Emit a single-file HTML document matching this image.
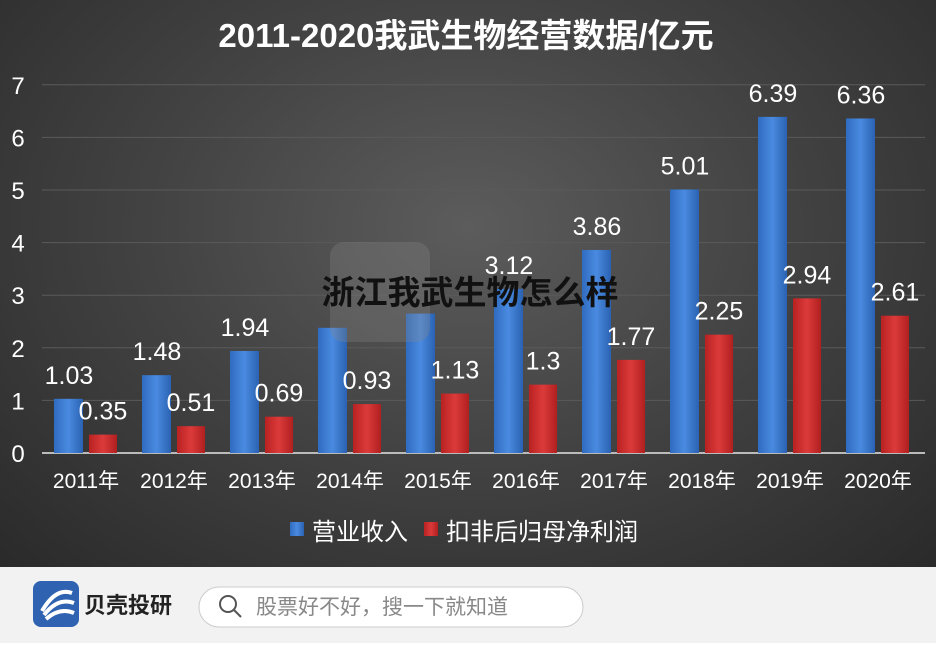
<!DOCTYPE html>
<html><head><meta charset="utf-8"><style>
body{margin:0;width:936px;height:643px;overflow:hidden;font-family:"Liberation Sans","Noto Sans CJK SC",sans-serif}
#chart{position:absolute;left:0;top:0;width:936px;height:567px;background:radial-gradient(ellipse at 50% 40%,#5c5c5c 0%,#444 45%,#2a2a2a 100%)}
#footer{position:absolute;left:0;top:567px;width:936px;height:76px;background:#f2f2f2}
</style></head><body>
<div id="chart">
<svg width="936" height="567" id="svg">
<defs>
<linearGradient id="gb" x1="0" x2="1"><stop offset="0" stop-color="#2f6cc0"/><stop offset="0.5" stop-color="#4a8ae0"/><stop offset="1" stop-color="#2a62b2"/></linearGradient>
<linearGradient id="gr" x1="0" x2="1"><stop offset="0" stop-color="#b82222"/><stop offset="0.5" stop-color="#dc3a3a"/><stop offset="1" stop-color="#b01f1f"/></linearGradient>
</defs>
<text x="466" y="47" text-anchor="middle" font-size="33" font-weight="bold" fill="#fff">2011-2020我武生物经营数据/亿元</text>
<g id="g"></g>
<rect x="290" y="522" width="14" height="14" fill="url(#gb)"/>
<text x="312" y="540" font-size="24" fill="#fff">营业收入</text>
<rect x="424" y="522" width="14" height="14" fill="url(#gr)"/>
<text x="446" y="540" font-size="24" fill="#fff">扣非后归母净利润</text>
<rect x="330" y="242" width="100" height="100" rx="14" fill="#888" opacity="0.3"/>
<text x="470" y="304" text-anchor="middle" font-size="33" font-weight="bold" fill="#111">浙江我武生物怎么样</text>
</svg>
</div>
<div id="footer">
<svg width="936" height="76">
<rect x="33" y="14" width="46" height="46" rx="8" fill="#2f62b0"/>
<path d="M42 44 Q56 20 72 26 M44 48 Q58 30 74 36 M46 52 Q60 40 74 46" stroke="#fff" stroke-width="4" fill="none"/>
<text x="84" y="46" font-size="22" font-weight="bold" fill="#222">贝壳投研</text>
<rect x="199" y="20" width="384" height="40" rx="20" fill="#fff" stroke="#ccc"/>
<circle cx="228" cy="37" r="8" stroke="#555" stroke-width="2" fill="none"/>
<line x1="234" y1="43" x2="241" y2="50" stroke="#555" stroke-width="2"/>
<text x="256" y="47" font-size="21" fill="#888">股票好不好，搜一下就知道</text>
</svg>
</div>
<script>
const categories=["2011年","2012年","2013年","2014年","2015年","2016年","2017年","2018年","2019年","2020年"];
const revenue=[1.03,1.48,1.94,2.38,2.65,3.12,3.86,5.01,6.39,6.36];
const revLabels=["1.03","1.48","1.94","","","3.12","3.86","5.01","6.39","6.36"];
const profit=[0.35,0.51,0.69,0.93,1.13,1.3,1.77,2.25,2.94,2.61];
const profLabels=["0.35","0.51","0.69","0.93","1.13","1.3","1.77","2.25","2.94","2.61"];
const yTicks=[0,1,2,3,4,5,6,7];
const NS="http://www.w3.org/2000/svg";
const g=document.getElementById('g');
const y=v=>453-v*52.6;
const cx=i=>86+i*88;
function mk(t,a,txt){const e=document.createElementNS(NS,t);for(const k in a)e.setAttribute(k,a[k]);if(txt!=null)e.textContent=txt;g.appendChild(e);return e;}
yTicks.forEach(t=>{
 if(t>0){const l=mk('line',{x1:42,x2:925,y1:y(t),y2:y(t),stroke:'#5a5a5a','stroke-width':1});
 }
 const e=mk('text',{x:18,y:y(t)+9,'text-anchor':'middle','font-size':24,fill:'#fff'},t);
 
 
});
const ax=mk('line',{x1:42,x2:925,y1:453,y2:453,stroke:'#bbb','stroke-width':2});


categories.forEach((c,i)=>{
 const b=mk('rect',{x:cx(i)-32,y:y(revenue[i]),width:29,height:453-y(revenue[i]),fill:'url(#gb)'});
 
 
 const r=mk('rect',{x:cx(i)+3,y:y(profit[i]),width:28,height:453-y(profit[i]),fill:'url(#gr)'});
 
 
 const t1=mk('text',{x:cx(i)-17,y:y(revenue[i])-15,'text-anchor':'middle','font-size':25,fill:'#fff'},revLabels[i]);
 
 
 const t2=mk('text',{x:cx(i)+17,y:y(profit[i])-15,'text-anchor':'middle','font-size':25,fill:'#fff'},profLabels[i]);
 
 
 const xl=mk('text',{x:cx(i),y:488,'text-anchor':'middle','font-size':21,fill:'#fff'},c);
 
 
});
</script>
</body></html>
